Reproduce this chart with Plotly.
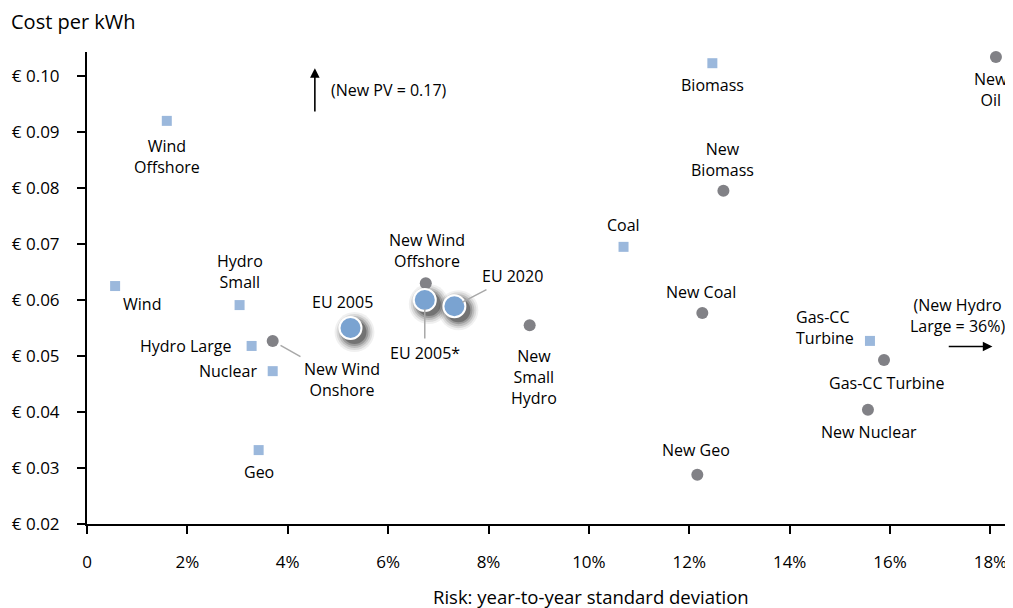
import plotly.graph_objects as go

# ---------------- data ----------------
sq_names = ["Wind<br>Offshore", "Wind", "Hydro<br>Small", "Hydro Large", "Nuclear",
            "Geo", "Biomass", "Coal", "Gas-CC<br>Turbine"]
sq_risk = [1.59, 0.56, 3.04, 3.28, 3.70, 3.42, 12.46, 10.69, 15.60]
sq_cost = [0.0920, 0.0625, 0.0591, 0.0518, 0.0473, 0.0332, 0.1023, 0.0695, 0.0527]

new_names = ["New Wind<br>Onshore", "New Wind<br>Offshore", "New<br>Small<br>Hydro",
             "New<br>Biomass", "New Coal", "New Geo", "Gas-CC Turbine",
             "New Nuclear", "New<br>Oil"]
new_risk = [3.70, 6.75, 8.82, 12.68, 12.26, 12.16, 15.88, 15.56, 18.11]
new_cost = [0.0527, 0.0630, 0.0555, 0.0795, 0.0577, 0.0288, 0.0493, 0.0404, 0.1034]

eu_names = ["EU 2005", "EU 2005*", "EU 2020"]
eu_risk = [5.25, 6.73, 7.32]
eu_cost = [0.0550, 0.0600, 0.0589]

x_ticks = [0, 2, 4, 6, 8, 10, 12, 14, 16, 18]
x_ticklabels = ["0", "2%", "4%", "6%", "8%", "10%", "12%", "14%", "16%", "18%"]
y_ticks = [0.02, 0.03, 0.04, 0.05, 0.06, 0.07, 0.08, 0.09, 0.10]
y_ticklabels = ["€ 0.02", "€ 0.03", "€ 0.04", "€ 0.05", "€ 0.06", "€ 0.07",
                "€ 0.08", "€ 0.09", "€ 0.10"]

# ---------------- styling / layout ----------------
FONT = "Open Sans"
FS = 16
SQ_COLOR = "#9bb8dc"
CIRC_COLOR = "#818186"
EU_COLOR = "#7aa3d1"
X_RANGE = [0, 18.45]
Y_RANGE = [0.02, 0.1043]
OFF = 8  # page body margin
W, H = 1013 - OFF, 608 - OFF
M = dict(l=87 - OFF, r=0, t=52 - OFF, b=84)
PW = W - M["l"] - M["r"]
PH = H - M["t"] - M["b"]
px_per_x = PW / (X_RANGE[1] - X_RANGE[0])
px_per_y = PH / (Y_RANGE[1] - Y_RANGE[0])

# label placement: (xshift, yshift, xanchor, align) in pixels
sq_lab = [(0, -36, "center", "center"), (27, -18, "center", "center"),
          (0, 34, "center", "center"), (-19, 0, "right", "center"),
          (-14, 0, "right", "center"), (0, -22, "center", "center"),
          (0, -22, "center", "center"), (0, 22, "center", "center"),
          (-14, 13, "right", "left")]
new_lab = [("arrow", 69, 39), (1, 33), (4, -52), (-1, 31), (-1, 21), (-1, 25),
           (2, -23), (1, -22), (-5, -32)]
eu_lab = [(-8, 26), ("arrow", 0, 53), ("arrow", 58, -30)]

fig = go.Figure()

# soft shadows under EU markers
for sz, op in [(40, 0.06), (36, 0.09), (32, 0.13), (28, 0.18), (24, 0.26)]:
    fig.add_trace(go.Scatter(
        x=[r + 4 / px_per_x for r in eu_risk],
        y=[c - 4 / px_per_y for c in eu_cost],
        mode="markers", hoverinfo="skip", showlegend=False,
        marker=dict(size=sz, color="black", opacity=op, line=dict(width=0)),
        cliponaxis=False))

fig.add_trace(go.Scatter(x=sq_risk, y=sq_cost, mode="markers", showlegend=False,
                         marker=dict(symbol="square", size=10, color=SQ_COLOR,
                                     line=dict(width=0)), cliponaxis=False))
fig.add_trace(go.Scatter(x=new_risk, y=new_cost, mode="markers", showlegend=False,
                         marker=dict(symbol="circle", size=12, color=CIRC_COLOR,
                                     line=dict(width=0)), cliponaxis=False))
fig.add_trace(go.Scatter(x=eu_risk, y=eu_cost, mode="markers", showlegend=False,
                         marker=dict(symbol="circle", size=22, color=EU_COLOR,
                                     line=dict(width=2, color="white")),
                         cliponaxis=False))

ann = []
tfont = dict(family=FONT, size=FS, color="black")
for name, x, y, (dx, dy, xa, al) in zip(sq_names, sq_risk, sq_cost, sq_lab):
    ann.append(dict(x=x, y=y, text=name, showarrow=False, xshift=dx, yshift=dy,
                    xanchor=xa, yanchor="middle", align=al, font=tfont))


def add_labels(names, xs, ys, labs):
    for name, x, y, lab in zip(names, xs, ys, labs):
        if lab[0] == "arrow":
            ann.append(dict(x=x, y=y, text=name, showarrow=True, ax=lab[1], ay=lab[2],
                            arrowhead=0, arrowwidth=1.5, arrowcolor="#a8a8a8",
                            standoff=9, startstandoff=2, font=tfont, align="center"))
        else:
            ann.append(dict(x=x, y=y, text=name, showarrow=False, xshift=lab[0],
                            yshift=lab[1], xanchor="center", yanchor="middle",
                            align="center", font=tfont))


add_labels(new_names, new_risk, new_cost, new_lab)
add_labels(eu_names, eu_risk, eu_cost, eu_lab)

# PV note with upward arrow
pv_x = 4.54
ann.append(dict(x=pv_x, y=0.1014, ax=pv_x, ay=0.0934, axref="x", ayref="y",
                text="", showarrow=True, arrowhead=2, arrowsize=1.2, arrowwidth=1.6,
                arrowcolor="black"))
ann.append(dict(x=4.82, y=0.0975, text="(New PV = 0.17)", showarrow=False,
                xanchor="left", yanchor="middle", font=tfont))
# Hydro note with right arrow
ann.append(dict(x=18.04, y=0.0517, ax=17.14, ay=0.0517, axref="x", ayref="y",
                text="", showarrow=True, arrowhead=2, arrowsize=1.2, arrowwidth=1.6,
                arrowcolor="black"))
ann.append(dict(x=17.35, y=0.0572, text="(New Hydro<br>Large = 36%)", showarrow=False,
                xanchor="center", yanchor="middle", align="center", font=tfont))

# axis titles
ann.append(dict(xref="paper", yref="paper", x=(9 - 87) / PW,
                y=1 + 31 / PH, xanchor="left", yanchor="middle",
                text="Cost per kWh", showarrow=False,
                font=dict(family=FONT, size=20, color="black")))
ann.append(dict(xref="paper", yref="paper", x=(591 - 87) / PW,
                y=-(596 - 524) / PH, xanchor="center",
                yanchor="middle", text="Risk: year-to-year standard deviation",
                showarrow=False, font=dict(family=FONT, size=18.5, color="black")))

fig.update_layout(
    width=W, height=H, margin=M, plot_bgcolor="white", paper_bgcolor="white",
    annotations=ann, font=dict(family=FONT, size=FS, color="black"),
    xaxis=dict(range=X_RANGE, tickvals=x_ticks, ticktext=x_ticklabels, showgrid=False,
               zeroline=False, showline=True, linecolor="black", linewidth=2,
               ticks="outside", ticklen=8, tickwidth=2, tickcolor="black",
               ticklabelstandoff=14, tickfont=dict(family=FONT, size=17),
               automargin=False),
    yaxis=dict(range=Y_RANGE, tickvals=y_ticks, ticktext=y_ticklabels, showgrid=False,
               zeroline=False, showline=True, linecolor="black", linewidth=2,
               ticks="outside", ticklen=8, tickwidth=2, tickcolor="black",
               ticklabelstandoff=14, tickfont=dict(family=FONT, size=17),
               automargin=False),
)

fig.write_html("out.html")
